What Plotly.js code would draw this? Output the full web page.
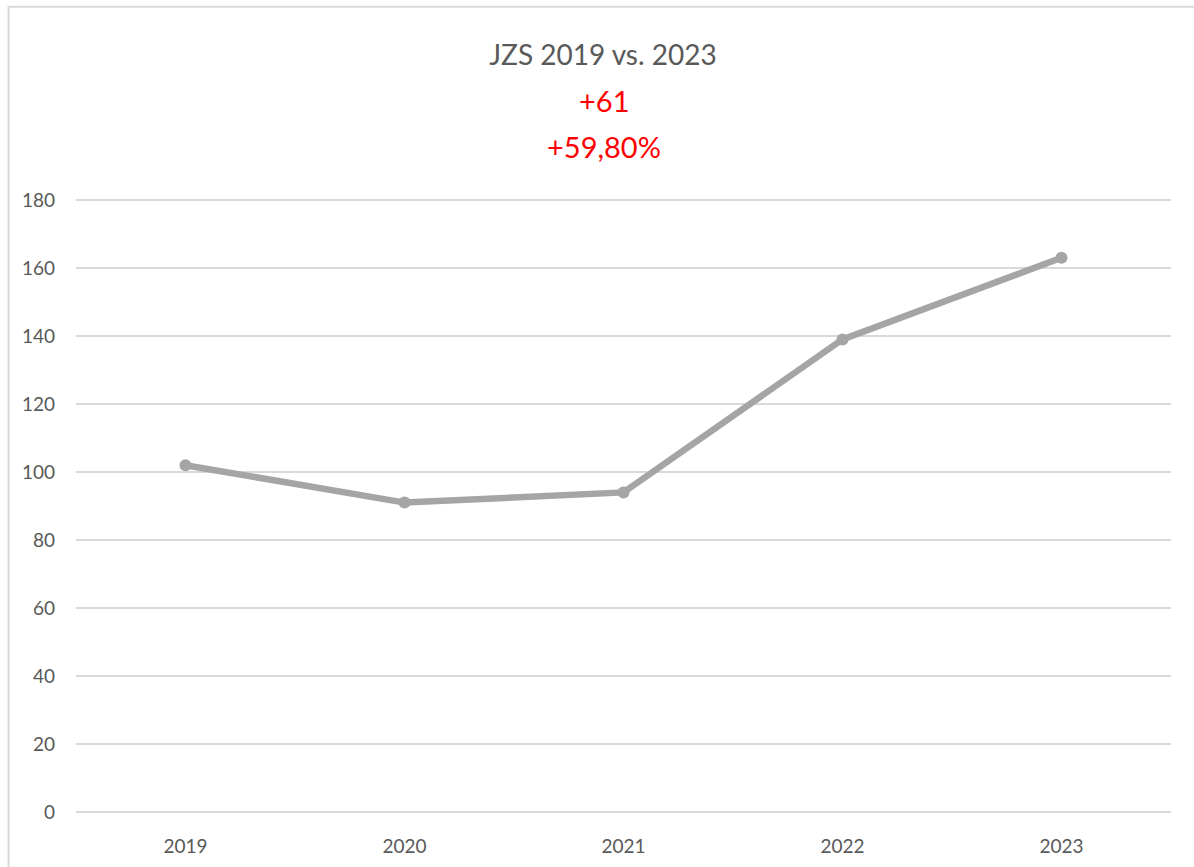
<!DOCTYPE html>
<html>
<head>
<meta charset="utf-8">
<script src="https://cdn.plot.ly/plotly-3.0.1.min.js"></script>
<style>
  body { margin: 0; background: #fff; }
  #chart { width: 1194px; height: 867px; }
</style>
</head>
<body>
<div id="chart"></div>
<script>
// JZS count per year
let years = ['2019', '2020', '2021', '2022', '2023'];
let jzs = [102, 91, 94, 139, 163];
let yTicks = [0, 20, 40, 60, 80, 100, 120, 140, 160, 180];

let diffLabel = '+61';
let pctLabel = '+59,80%';

let trace = {
  x: years,
  y: jzs,
  type: 'scatter',
  mode: 'lines+markers',
  line: { color: '#a5a5a5', width: 6.5 },
  marker: { color: '#a5a5a5', size: 12 },
  hoverinfo: 'x+y'
};

let layout = {
  width: 1194,
  height: 867,
  // range padded a bit so the 0 and 180 gridlines still get drawn
  margin: { l: 76, r: 23, t: 199, b: 54 },
  paper_bgcolor: '#ffffff',
  plot_bgcolor: '#ffffff',
  showlegend: false,
  font: { family: 'Lato, "Open Sans", sans-serif', color: '#595959', size: 19 },
  title: {
    text: 'JZS 2019 vs. 2023',
    font: { size: 28, color: '#595959' },
    x: 0.505,
    xanchor: 'center',
    y: 0.936,
    yanchor: 'middle'
  },
  xaxis: {
    type: 'category',
    range: [-0.5, 4.5],
    showgrid: false,
    zeroline: false,
    showline: false,
    ticks: '',
    ticklabelstandoff: 20,
    tickfont: { size: 19, color: '#595959' }
  },
  yaxis: {
    range: [-0.3, 180.3],
    tickvals: yTicks,
    showgrid: true,
    gridcolor: '#d9d9d9',
    gridwidth: 2,
    zeroline: false,
    showline: false,
    ticks: '',
    ticklabelstandoff: 20,
    tickfont: { size: 19, color: '#595959' }
  },
  annotations: [
    {
      text: diffLabel, xref: 'paper', yref: 'paper',
      x: 0.482, y: 1.161, yanchor: 'middle', showarrow: false,
      font: { size: 29, color: '#ff0000' }
    },
    {
      text: pctLabel, xref: 'paper', yref: 'paper',
      x: 0.482, y: 1.085, yanchor: 'middle', showarrow: false,
      font: { size: 29, color: '#ff0000' }
    }
  ],
  shapes: [
    {
      type: 'rect', xref: 'paper', yref: 'paper',
      x0: -0.0616, x1: 1.2, y0: -0.2, y1: 1.313,
      line: { color: '#d9d9d9', width: 2 },
      layer: 'below'
    }
  ]
};

Plotly.newPlot('chart', [trace], layout, { displayModeBar: false });
</script>
</body>
</html>
